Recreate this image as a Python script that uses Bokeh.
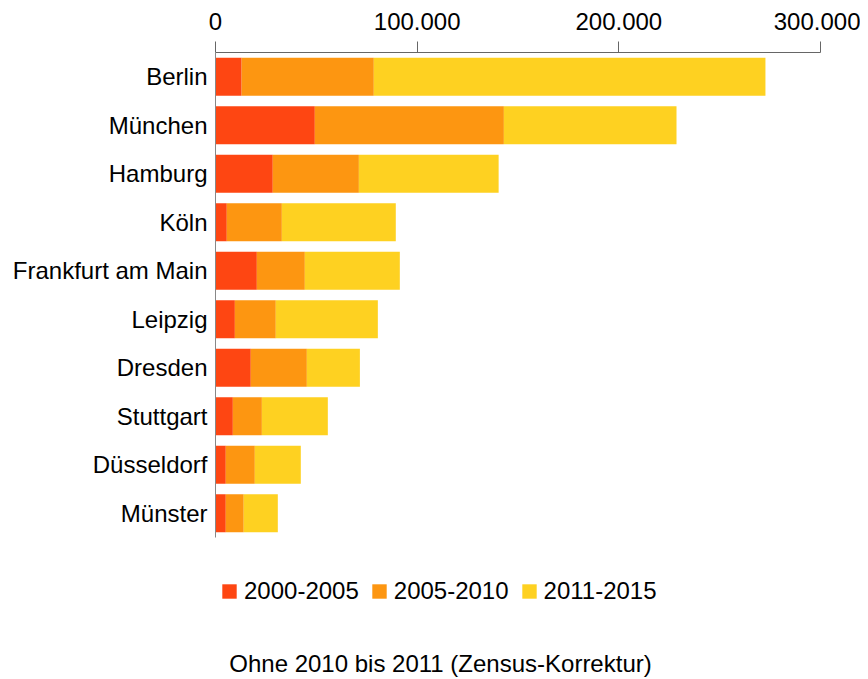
from bokeh.plotting import figure
from bokeh.models import (Range1d, FixedTicker, Legend, LegendItem, Label,
                          ColumnDataSource)
from bokeh.embed import file_html
from bokeh.resources import INLINE

cities = ["Berlin", "München", "Hamburg", "Köln", "Frankfurt am Main", "Leipzig",
          "Dresden", "Stuttgart", "Düsseldorf", "Münster"]
p2000_2005 = [12950, 49250, 28400, 5600, 20500, 9600, 17500, 8600, 5100, 5100]
p2005_2010 = [65550, 93750, 42700, 27300, 23800, 20300, 27800, 14400, 14400, 8900]
p2011_2015 = [194200, 85600, 69300, 56500, 47100, 50600, 26300, 32700, 22800, 16900]
series = ["2000-2005", "2005-2010", "2011-2015"]
colors = ["#fe4612", "#fd9611", "#fed121"]
x_ticks = [0, 100000, 200000, 300000]
x_tick_labels = ["0", "100.000", "200.000", "300.000"]
caption = "Ohne 2010 bis 2011 (Zensus-Korrektur)"

FONT = "Liberation Sans"
FS = "24px"

positions = list(range(len(cities)))
source = ColumnDataSource(data={
    "pos": positions,
    series[0]: p2000_2005,
    series[1]: p2005_2010,
    series[2]: p2011_2015,
})

FRAME_H = 625
BAND_PX = 48.5
n = len(cities)

p = figure(x_range=Range1d(0, 300000),
           y_range=Range1d(start=-0.5 + FRAME_H / BAND_PX, end=-0.5),
           x_axis_location="above", frame_width=605, frame_height=FRAME_H,
           min_border_left=215, min_border_right=40, min_border_top=52,
           min_border_bottom=0, output_backend="svg", toolbar_location=None)

renderers = p.hbar_stack(series, y="pos", height=0.78, color=colors,
                         line_color=None, source=source)

p.xgrid.visible = False
p.ygrid.visible = False
p.outline_line_color = None
p.background_fill_color = "white"
p.border_fill_color = "white"

xa = p.xaxis[0]
xa.ticker = FixedTicker(ticks=x_ticks)
xa.major_label_overrides = {t: l for t, l in zip(x_ticks, x_tick_labels)}
xa.minor_tick_line_color = None
xa.major_tick_in = 0
xa.major_tick_out = 11
xa.major_label_standoff = 12
xa.axis_line_color = "#666666"
xa.major_tick_line_color = "#666666"
xa.major_label_text_font = FONT
xa.major_label_text_font_size = FS
xa.major_label_text_color = "black"

ya = p.yaxis[0]
ya.ticker = FixedTicker(ticks=positions)
ya.major_label_overrides = {i: c for i, c in zip(positions, cities)}
ya.bounds = (-0.5, n - 0.5)
ya.major_tick_line_color = None
ya.minor_tick_line_color = None
ya.major_tick_in = 0
ya.major_tick_out = 0
ya.major_label_standoff = 8
ya.axis_line_color = "#888888"
ya.major_label_text_font = FONT
ya.major_label_text_font_size = FS
ya.major_label_text_color = "black"

legend = Legend(items=[LegendItem(label=s, renderers=[r]) for s, r in zip(series, renderers)],
                orientation="horizontal", location=(5, 72),
                glyph_width=18, glyph_height=18, label_standoff=6, spacing=11,
                padding=0, margin=0, border_line_color=None,
                background_fill_alpha=0, label_text_font=FONT,
                label_text_font_size=FS, label_text_color="black")
p.add_layout(legend, "center")

cap = Label(x=225, y=14, x_units="screen", y_units="screen", text=caption,
            text_align="center", text_baseline="middle", text_font=FONT,
            text_font_size=FS, text_color="black")
p.add_layout(cap)

open("out.html", "w").write(file_html(p, INLINE))
